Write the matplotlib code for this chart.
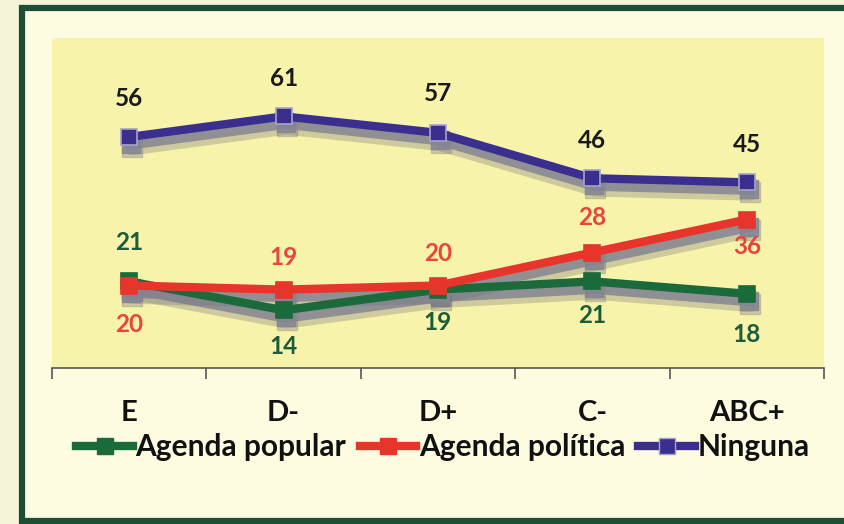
import matplotlib.pyplot as plt
import matplotlib.transforms as mtransforms
from matplotlib.patches import Rectangle
from matplotlib.lines import Line2D

plt.rcParams['font.family'] = ['Lato', 'DejaVu Sans']

# ========== Data ==========
categories = ['E', 'D-', 'D+', 'C-', 'ABC+']
series_names = ['Agenda popular', 'Agenda política', 'Ninguna']
agenda_popular = [21, 14, 19, 21, 18]
agenda_politica = [20, 19, 20, 28, 36]
ninguna = [56, 61, 57, 46, 45]

# vertical offset of each value label, in pixels
popular_off = [39, -36, -33, -34, -41]
politica_off = [-39, 32, 32, 35, -27]
ninguna_off = [38, 38, 39, 38, 38]

line_colors = ['#1b6a3c', '#e8352c', '#3a2f8e']
edge_colors = ['#1b6a3c', '#e8352c', '#a4a4c8']
label_colors = ['#1d5c3a', '#e8453c', '#1a1a1a']

# ========== Figure ==========
fig = plt.figure(figsize=(8.44, 5.24), dpi=100)
fig.patch.set_facecolor('#f6f4d8')

# outer frame
frame = Rectangle((22 / 844, 3 / 524), 840 / 844, 513 / 524, transform=fig.transFigure,
                  facecolor='#fdfbe0', edgecolor='#1e4d36', linewidth=4.5, zorder=-10)
fig.patches.append(frame)

ax = fig.add_axes([52 / 844, 1 - 368 / 524, 772 / 844, 330 / 524])
ax.set_facecolor('#f8f3aa')
ax.set_xlim(-0.5, 4.5)
ax.set_ylim(0, 80)
for s in ['top', 'right', 'left']:
    ax.spines[s].set_visible(False)
ax.spines['bottom'].set_color('#555555')
ax.spines['bottom'].set_linewidth(1.2)
ax.set_yticks([])
ax.set_xticks([i - 0.5 for i in range(len(categories) + 1)])
ax.set_xticklabels([])
ax.tick_params(axis='x', direction='out', length=8, width=1.2, color='#555555')

x = list(range(len(categories)))
all_series = [agenda_popular, agenda_politica, ninguna]
all_offsets = [popular_off, politica_off, ninguna_off]

# shadows under the lines
shadow_soft = ax.transData + mtransforms.ScaledTranslation(3 / 100, -10 / 100, fig.dpi_scale_trans)
shadow_hard = ax.transData + mtransforms.ScaledTranslation(2 / 100, -7 / 100, fig.dpi_scale_trans)
for vals in all_series:
    ax.plot(x, vals, color='#6e6e7c', lw=12, alpha=0.3, marker='s', ms=15,
            transform=shadow_soft, zorder=2, solid_capstyle='round')
    ax.plot(x, vals, color='#858592', lw=8, alpha=0.85, marker='s', ms=13,
            transform=shadow_hard, zorder=2)

# lines
for i, vals in enumerate(all_series):
    ax.plot(x, vals, color=line_colors[i], lw=6, marker='s', ms=12,
            markerfacecolor=line_colors[i], markeredgecolor=edge_colors[i],
            markeredgewidth=1.2, zorder=3 + i)

# data labels
for i, vals in enumerate(all_series):
    for xi, v, off in zip(x, vals, all_offsets[i]):
        ax.annotate(str(v), (xi, v), xytext=(0, off), textcoords='offset pixels',
                    ha='center', va='center', fontsize=17.5, fontweight='bold',
                    color=label_colors[i], zorder=10)

# category labels
for xi, cat in zip(x, categories):
    ax.annotate(cat, (xi, 0), xycoords=('data', 'axes fraction'), xytext=(0, -45),
                textcoords='offset pixels', ha='center', va='center',
                fontsize=21, fontweight='bold', color='#111111', annotation_clip=False)

# legend
handles = [Line2D([0], [0], color=line_colors[i], lw=6, marker='s', ms=12,
                  markerfacecolor=line_colors[i], markeredgecolor=edge_colors[i])
           for i in range(3)]
leg = fig.legend(handles, series_names, loc='center', bbox_to_anchor=(443 / 844, 1 - 447 / 524),
                 ncol=3, frameon=False, handlelength=1.9, handletextpad=0.08,
                 columnspacing=0.45, prop={'size': 21.5, 'weight': 'bold'})
for t in leg.get_texts():
    t.set_color('#111111')

fig.savefig('out.png', dpi=100, facecolor=fig.get_facecolor())
